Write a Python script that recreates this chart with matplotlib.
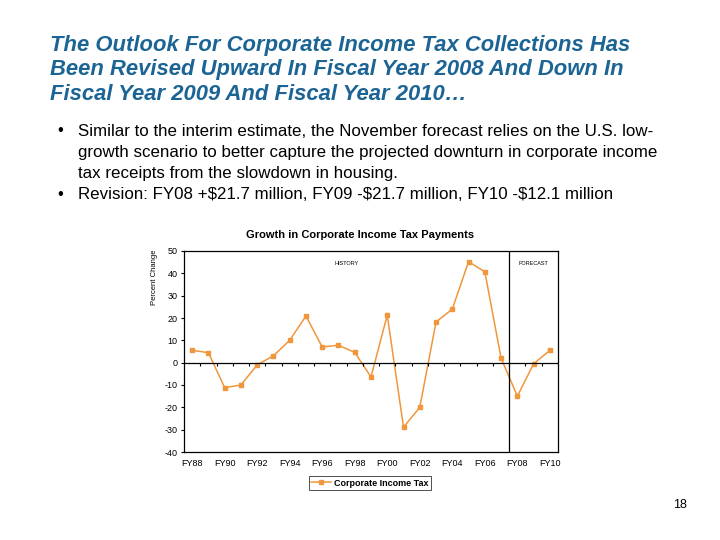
import matplotlib
matplotlib.use('Agg')
import matplotlib.pyplot as plt
import numpy as np

plt.rcParams['font.family'] = ['Liberation Sans', 'DejaVu Sans']
plt.rcParams['axes.unicode_minus'] = False

years = ['FY88', 'FY89', 'FY90', 'FY91', 'FY92', 'FY93', 'FY94', 'FY95',
         'FY96', 'FY97', 'FY98', 'FY99', 'FY00', 'FY01', 'FY02', 'FY03',
         'FY04', 'FY05', 'FY06', 'FY07', 'FY08', 'FY09', 'FY10']
growth = [5.5, 4.5, -11.2, -10.0, -1.0, 3.1, 10.0, 20.9, 7.0, 7.8, 4.6,
          -6.4, 21.3, -28.9, -20.0, 18.2, 24.0, 45.2, 40.7, 2.0, -15.0,
          -0.5, 5.5]
first_forecast = 'FY08'

heading = ["The Outlook For Corporate Income Tax Collections Has",
           "Been Revised Upward In Fiscal Year 2008 And Down In",
           "Fiscal Year 2009 And Fiscal Year 2010\u2026"]
bullet1 = ["Similar to the interim estimate, the November forecast relies on the U.S. low-",
           "growth scenario to better capture the projected downturn in corporate income",
           "tax receipts from the slowdown in housing."]
bullet2 = "Revision: FY08 +$21.7 million, FY09 -$21.7 million, FY10 -$12.1 million"

orange = '#F0963C'
fig = plt.figure(figsize=(7.2, 5.4), dpi=100)

# slide heading and bullets
for i, line in enumerate(heading):
    fig.text(50 / 720, 1 - (45 + 25 * i) / 540, line, fontsize=15.85,
             fontweight='bold', fontstyle='italic', color='#1B6494',
             va='center', ha='left')

for i, line in enumerate(bullet1 + [bullet2]):
    y = 1 - (131 + 21.3 * i) / 540
    if i in (0, 3):
        fig.text(57 / 720, y, '\u2022', fontsize=12, va='center')
    fig.text(78 / 720, y, line, fontsize=12.2, va='center', ha='left')

fig.text(680 / 720, 1 - 505 / 540, '18', fontsize=9, ha='center',
         va='center')

# chart
ax = fig.add_axes([184 / 720, 88 / 540, 374 / 720, 201 / 540])
x = np.arange(len(years))
ax.plot(x, growth, color=orange, lw=1.1, marker='s', ms=2.5,
        label='Corporate Income Tax')
ax.set_xlim(-0.5, len(years) - 0.5)
ax.set_ylim(-40, 50)
ax.set_yticks(range(-40, 51, 10))
ax.set_xticks(x[::2])
ax.set_xticklabels(years[::2])
ax.tick_params(axis='x', length=0, labelsize=6.5, pad=5)
ax.tick_params(axis='y', length=2.5, labelsize=6.5, pad=2)
for s in ax.spines.values():
    s.set_linewidth(0.9)
ax.axhline(0, color='black', lw=0.9)
split = years.index(first_forecast) - 0.5
ax.axvline(split, color='black', lw=0.9)

# tick marks along the zero line, at category boundaries
ax2 = ax.twiny()
ax2.set_xlim(ax.get_xlim())
ax2.spines['bottom'].set_position(('data', 0))
for side in ['bottom', 'top', 'left', 'right']:
    ax2.spines[side].set_visible(False)
ax2.xaxis.set_ticks_position('bottom')
ax2.set_xticks(x[:-1] + 0.5)
ax2.set_xticklabels([])
ax2.tick_params(axis='x', direction='out', length=2.5, width=0.8)

ax.text((split - 0.5) / 2, 44.5, 'HISTORY', fontsize=4, ha='center',
        va='center')
ax.text((split + len(years) - 0.5) / 2, 44.5, 'FORECAST', fontsize=4,
        ha='center', va='center')

fig.text(360 / 720, 1 - 235 / 540, 'Growth in Corporate Income Tax Payments',
         fontsize=8, fontweight='bold', ha='center', va='center')
fig.text(154 / 720, 1 - 277 / 540, 'Percent Change', fontsize=5.5,
         rotation=90, ha='center', va='center')

leg = ax.legend(loc='center', bbox_to_anchor=(370 / 720, 1 - 483 / 540),
                bbox_transform=fig.transFigure, fontsize=6.5, frameon=True,
                fancybox=False, edgecolor='black', handlelength=2.2,
                borderpad=0.3, handletextpad=0.3)
leg.get_frame().set_linewidth(0.6)
for t in leg.get_texts():
    t.set_fontweight('bold')

fig.savefig('out.png', dpi=100)
